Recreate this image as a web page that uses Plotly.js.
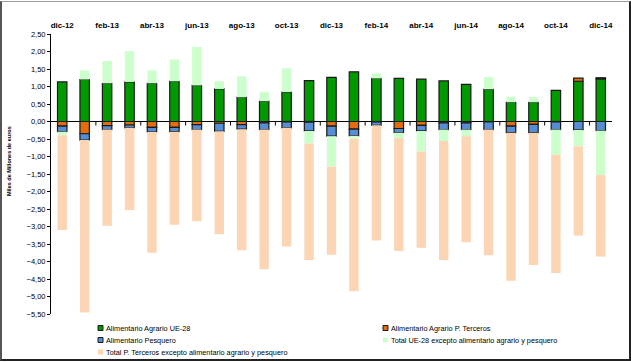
<!DOCTYPE html>
<html>
<head>
<meta charset="utf-8">
<script src="https://cdn.plot.ly/plotly-3.0.1.min.js"></script>
<style>
  html, body { margin: 0; padding: 0; background: #fff; }
  #wrap { position: relative; width: 631px; height: 362px; }
  #chart { position: absolute; left: 0; top: 0; width: 631px; height: 362px; }
  #frame { position: absolute; left: 0; top: 1px; width: 627px; height: 357px;
           border-top: 1px solid #9a9a9a; border-left: 2px solid #555;
           border-right: 2px solid #222; border-bottom: 2px solid #222; pointer-events: none; }
</style>
</head>
<body>
<div id="wrap"><div id="chart"></div><div id="frame"></div></div>
<script>
// ---- data (miles de millones de euros) ----
const months = ['dic-12','ene-13','feb-13','mar-13','abr-13','may-13','jun-13','jul-13','ago-13','sep-13','oct-13','nov-13',
                'dic-13','ene-14','feb-14','mar-14','abr-14','may-14','jun-14','jul-14','ago-14','sep-14','oct-14','nov-14','dic-14'];
const tickLabels = ['dic-12','feb-13','abr-13','jun-13','ago-13','oct-13','dic-13','feb-14','abr-14','jun-14','ago-14','oct-14','dic-14'];
const agrarioUE = [1.13,1.20,1.09,1.13,1.09,1.15,1.03,0.93,0.69,0.58,0.84,1.17,1.26,1.42,1.23,1.23,1.21,1.16,1.06,0.92,0.55,0.55,0.89,1.15,1.22];
const agrarioPT = [-0.13,-0.35,-0.12,-0.10,-0.17,-0.17,-0.09,-0.05,-0.09,-0.04,-0.01,-0.02,-0.13,-0.22,-0.01,-0.20,-0.11,-0.04,-0.04,-0.01,-0.13,-0.08,-0.01,0.09,0.03];
const pesquero  = [-0.16,-0.18,-0.11,-0.08,-0.13,-0.12,-0.14,-0.23,-0.13,-0.19,-0.17,-0.25,-0.29,-0.19,-0.10,-0.12,-0.16,-0.19,-0.19,-0.22,-0.19,-0.24,-0.22,-0.24,-0.26];
const restoUE   = [-0.10,0.26,0.64,0.88,0.37,0.62,1.10,0.22,0.60,0.27,0.68,-0.36,-0.87,-0.08,0.14,-0.15,-0.59,-0.33,-0.19,0.35,0.16,0.15,-0.72,-0.47,-1.27];
const restoPT   = [-2.71,-4.93,-2.75,-2.35,-3.45,-2.66,-2.62,-2.94,-3.46,-3.99,-3.39,-3.33,-2.52,-4.36,-3.29,-3.23,-2.75,-3.40,-3.03,-3.59,-4.23,-3.78,-3.38,-2.55,-2.33];
const seriesNames = ['Alimentario Agrario UE-28','Alimentario Agrario P. Terceros','Alimentario Pesquero',
                     'Total UE-28 excepto alimentario agrario y pesquero','Total P. Terceros excepto alimentario agrario y pesquero'];

// ---- styles ----
const colors = ['#009900','#E46C0A','#558ED5','#CCFFCC','#FCD5B5'];
const outlined = [true,true,true,false,false];
const values = [agrarioUE, agrarioPT, pesquero, restoUE, restoPT];
const FONT = 'Liberation Sans, Arial, sans-serif';

const traces = values.map((v, i) => ({
  type: 'bar', x: months, y: v, name: seriesNames[i], showlegend: false,
  marker: { color: colors[i], line: { color: outlined[i] ? '#1a1a1a' : colors[i], width: outlined[i] ? 1.2 : 0 } },
  hoverinfo: 'x+y+name'
}));

// plot area in pixels
const L = 51, R = 19, T = 34, B = 48, W = 631, H = 362;
const pw = W - L - R, ph = H - T - B;
const px = x => (x - L) / pw;
const py = y => (H - B - y) / ph;

// tick marks on the zero line, every two categories
const shapes = [];
for (let k = 2; k < months.length; k += 2) {
  shapes.push({ type: 'line', xref: 'x', yref: 'y', x0: k - 0.5, x1: k - 0.5,
    ysizemode: 'pixel', yanchor: 0, y0: 0, y1: -4, line: { color: '#000', width: 1 } });
}

// legend (two columns)
const legPos = [[98, 328], [383, 328], [98, 340], [383, 340], [98, 352]];
const annotations = [];
legPos.forEach((p, i) => {
  shapes.push({ type: 'rect', xref: 'paper', yref: 'paper',
    x0: px(p[0]), x1: px(p[0] + 5), y0: py(p[1] + 2.5), y1: py(p[1] - 2.5),
    fillcolor: colors[i], line: { color: outlined[i] ? '#1a1a1a' : colors[i], width: outlined[i] ? 1 : 0 } });
  annotations.push({ xref: 'paper', yref: 'paper', x: px(p[0] + 6), y: py(p[1]), xanchor: 'left', yanchor: 'middle',
    text: seriesNames[i], showarrow: false, font: { family: FONT, size: 7.3, color: '#000' } });
});
// y axis title
annotations.push({ xref: 'paper', yref: 'paper', x: px(9), y: py(161), xanchor: 'center', yanchor: 'middle',
  text: 'Miles de Millones de euros', textangle: -90, showarrow: false,
  font: { family: FONT, size: 5.5, color: '#000', weight: 'bold' } });

const layout = {
  width: W, height: H,
  margin: { l: L, r: R, t: T, b: B, pad: 0 },
  paper_bgcolor: '#fff', plot_bgcolor: '#fff',
  barmode: 'relative', bargap: 0.58,
  separators: ',.',
  font: { family: FONT, size: 7.5, color: '#000' },
  xaxis: {
    type: 'category', side: 'top', tickvals: tickLabels, ticktext: tickLabels,
    ticks: '', showline: false, showgrid: false, zeroline: false, fixedrange: true,
    ticklabelstandoff: 3,
    tickfont: { family: FONT, size: 8, color: '#000', weight: 'bold' }
  },
  yaxis: {
    range: [-5.5, 2.5], dtick: 0.5, tick0: 0, tickformat: '.2f',
    showline: true, linecolor: '#000', linewidth: 1, ticks: 'outside', ticklen: 3, tickcolor: '#000',
    showgrid: false, zeroline: true, zerolinecolor: '#000', zerolinewidth: 1.2,
    tickfont: { family: FONT, size: 7.5, color: '#000' }, fixedrange: true
  },
  shapes: shapes,
  annotations: annotations,
  showlegend: false
};

Plotly.newPlot('chart', traces, layout, { displayModeBar: false, staticPlot: true });
</script>
</body>
</html>
